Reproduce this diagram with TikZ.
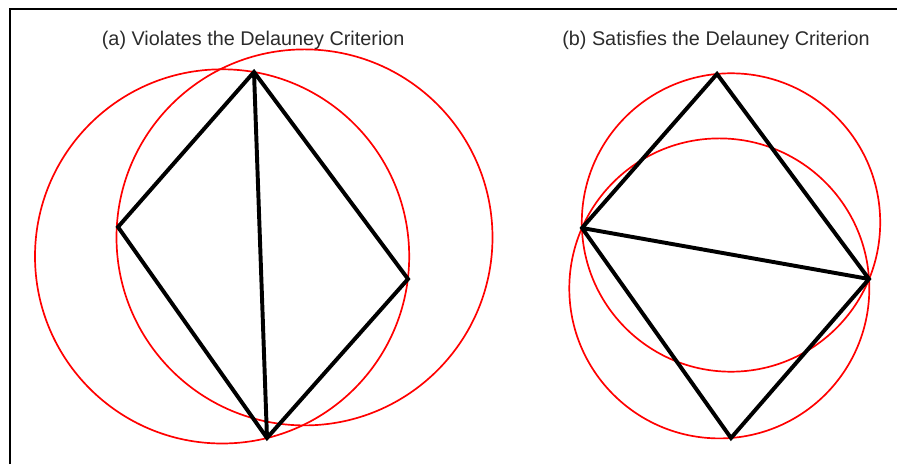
\documentclass[tikz,border=0pt]{standalone}
\usepackage{fontspec}
\setmainfont{Liberation Sans}
\usepackage{tikz}
\usetikzlibrary{positioning}
\definecolor{ink}{HTML}{2B2B2B}
\definecolor{ring}{HTML}{FF0000}

\begin{document}
\begin{tikzpicture}[every node/.style={font=\fontsize{14.1}{17}\selectfont,text=ink},
 vtx/.style={coordinate},
 edge/.style={black,line width=2.8pt,line join=miter},
 circ/.style={ring,line width=1.2pt}]
 \useasboundingbox (0,0) rectangle (22.425,11.6);
 \draw[line width=1.4pt] (0.25,0) -- (0.25,11.375) -- (22.425,11.375);
 % (a)
 \node (ta) at (6.33,10.6) {(a) Violates the Delauney Criterion};
 \node[vtx] (a0) at (6.35,9.8) {};
 \node[vtx] (a1) at (2.95,5.925) {};
 \node[vtx] (a2) at (10.2,4.625) {};
 \node[vtx] (a3) at (6.675,0.65) {};
 \draw[circ] (7.6125,5.665) circle (4.7);
 \draw[circ] (5.5525,5.19) circle (4.6775);
 \draw[edge] (a0)--(a1)--(a3)--(a2)--cycle (a0)--(a3);
 % (b)
 \node (tb) at (17.9,10.6) {(b) Satisfies the Delauney Criterion};
 \node[vtx] (b0) at (17.925,9.75) {};
 \node[vtx] (b1) at (14.55,5.9) {};
 \node[vtx] (b2) at (21.725,4.625) {};
 \node[vtx] (b3) at (18.275,0.65) {};
 \draw[circ] (18.275,6.0375) circle (3.73);
 \draw[circ] (17.9825,4.39) circle (3.75);
 \draw[edge] (b0)--(b1)--(b3)--(b2)--cycle (b1)--(b2);
\end{tikzpicture}
\end{document}
